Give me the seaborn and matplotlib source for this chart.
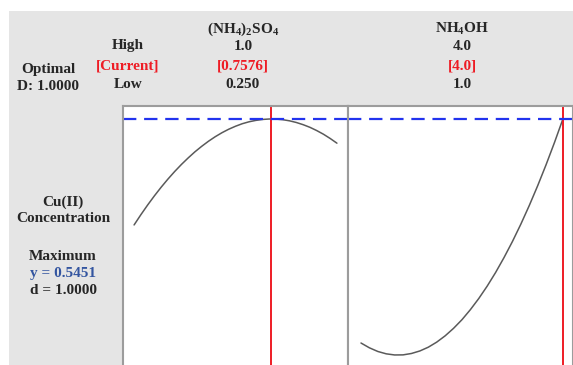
"""Response optimizer plot for Cu(II) concentration (two factors)."""

import matplotlib.pyplot as plt
import pandas as pd
import seaborn as sns
from matplotlib.patches import Rectangle

# factor 1: (NH4)2SO4, low..high, and predicted Cu(II) along it
SO4_LEVELS = [0.250, 0.275, 0.300, 0.325, 0.350, 0.375, 0.400, 0.425,
              0.450, 0.475, 0.500, 0.525, 0.550, 0.575, 0.600, 0.625,
              0.650, 0.675, 0.700, 0.725, 0.750, 0.775, 0.800, 0.825,
              0.850, 0.875, 0.900, 0.925, 0.950, 0.975, 1.000]
SO4_RESPONSE = [0.4237, 0.4354, 0.4465, 0.4570, 0.4669, 0.4762, 0.4849, 0.4930,
                0.5005, 0.5075, 0.5138, 0.5196, 0.5248, 0.5294, 0.5334, 0.5368,
                0.5397, 0.5419, 0.5435, 0.5446, 0.5451, 0.5450, 0.5443, 0.5430,
                0.5411, 0.5386, 0.5356, 0.5319, 0.5277, 0.5228, 0.5174]

# factor 2: NH4OH, low..high
NH4OH_LEVELS = [1.000, 1.125, 1.250, 1.375, 1.500, 1.625, 1.750, 1.875,
                2.000, 2.125, 2.250, 2.375, 2.500, 2.625, 2.750, 2.875,
                3.000, 3.125, 3.250, 3.375, 3.500, 3.625, 3.750, 3.875, 4.000]
NH4OH_RESPONSE = [0.2884, 0.2829, 0.2787, 0.2760, 0.2747, 0.2748, 0.2764, 0.2793,
                  0.2836, 0.2894, 0.2966, 0.3052, 0.3151, 0.3266, 0.3394, 0.3536,
                  0.3692, 0.3863, 0.4047, 0.4246, 0.4459, 0.4686, 0.4927, 0.5182,
                  0.5451]

FACTOR_NAMES = [r"(NH$_4$)$_2$SO$_4$", r"NH$_4$OH"]
HIGH = ["1.0", "4.0"]
CURRENT = ["[0.7576]", "[4.0]"]
LOW = ["0.250", "1.0"]
CURRENT_VALUES = [0.7576, 4.0]

Y_OPT = 0.5451
D_VALUE = "1.0000"

W, H = 573, 365
GREY_BG = "#e5e5e5"
SPINE = "#9c9c9c"
RED = "#ee1c25"
BLUE = "#2233ee"

sns.set_style("white")
plt.rcParams["font.family"] = ["Liberation Serif", "DejaVu Serif"]
plt.rcParams["font.weight"] = "bold"
plt.rcParams["mathtext.default"] = "regular"

fig = plt.figure(figsize=(W / 100, H / 100), dpi=100)
fig.patches.append(Rectangle((9 / W, 0), 1, (H - 11) / H, transform=fig.transFigure,
                             facecolor=GREY_BG, edgecolor="none", zorder=-5))


def fx(px):
    return px / W


def fy(py):
    return 1 - py / H


panels = [
    (123, pd.DataFrame({"x": SO4_LEVELS, "y": SO4_RESPONSE}), (0.209, 1.041)),
    (348, pd.DataFrame({"x": NH4OH_LEVELS, "y": NH4OH_RESPONSE}), (0.807, 4.15)),
]

for i, (left, df, xlim) in enumerate(panels):
    ax = fig.add_axes([fx(left), 0, 225 / W, (H - 106) / H])
    ax.set_zorder(2)
    ax.set_facecolor("white")
    sns.lineplot(data=df, x="x", y="y", ax=ax, color="#5a5a5a", linewidth=1.1)
    ax.axvline(CURRENT_VALUES[i], color=RED, linewidth=1.4)
    ax.axhline(Y_OPT, color=BLUE, linewidth=1.6, linestyle=(0, (6, 3.5)))
    ax.set_xlim(*xlim)
    ax.set_ylim(0.2632, 0.5600)
    ax.set_xticks([])
    ax.set_yticks([])
    ax.set_xlabel("")
    ax.set_ylabel("")
    for side, spine in ax.spines.items():
        spine.set_color(SPINE)
        spine.set_linewidth(1.5)
    ax.spines["bottom"].set_visible(False)

# header columns
col_x = [243, 462]
for i in range(2):
    x = fx(col_x[i])
    fig.text(x, fy(29), FACTOR_NAMES[i], ha="center", va="center", fontsize=11)
    fig.text(x, fy(47), HIGH[i], ha="center", va="center", fontsize=11)
    fig.text(x, fy(66), CURRENT[i], ha="center", va="center", fontsize=11, color=RED)
    fig.text(x, fy(84), LOW[i], ha="center", va="center", fontsize=11)

fig.text(fx(128), fy(46), "High", ha="center", va="center", fontsize=11)
fig.text(fx(128), fy(66), "[Current]", ha="center", va="center", fontsize=11, color=RED)
fig.text(fx(128), fy(84), "Low", ha="center", va="center", fontsize=11)

fig.text(fx(48), fy(69), "Optimal", ha="center", va="center", fontsize=11)
fig.text(fx(48), fy(87), f"D: {D_VALUE}", ha="center", va="center", fontsize=11)

# response block
fig.text(fx(63), fy(202), "Cu(II)", ha="center", va="center", fontsize=11)
fig.text(fx(63), fy(219), "Concentration", ha="center", va="center", fontsize=11)
fig.text(fx(63), fy(256), "Maximum", ha="center", va="center", fontsize=11)
fig.text(fx(63), fy(274), f"y = {Y_OPT:.4f}", ha="center", va="center",
         fontsize=11, color="#3355a0")
fig.text(fx(63), fy(291), f"d = {D_VALUE}", ha="center", va="center", fontsize=11)

fig.savefig("out.png", dpi=100)
